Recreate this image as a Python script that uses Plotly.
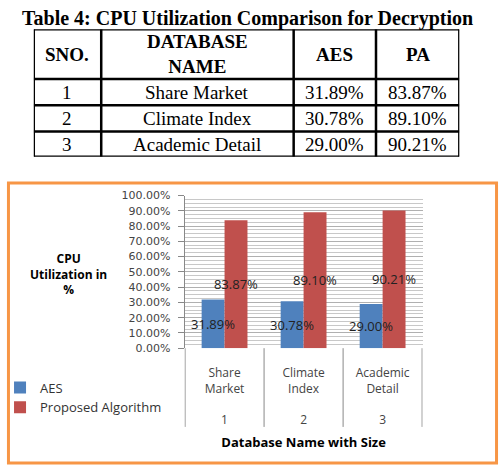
import plotly.graph_objects as go

# ---- data ----
sno = ["1", "2", "3"]
db_names = ["Share Market", "Climate Index", "Academic Detail"]
db_labels = ["Share<br>Market", "Climate<br>Index", "Academic<br>Detail"]
aes = [31.89, 30.78, 29.00]
pa = [83.87, 89.10, 90.21]
series_names = ["AES", "Proposed Algorithm"]
table_title = "Table 4: CPU Utilization Comparison for Decryption"
table_header = ["SNO.", "DATABASE<br>NAME", "AES", "PA"]
y_title = "CPU<br>Utilization in<br>%"
x_title = "Database Name with Size"

# ---- layout constants ----
W, H = 500, 466
def px_x(x): return x / W
def px_y(y): return 1 - y / H

serif = "Liberation Serif"
sans = "Open Sans"
col_widths = [68, 194, 83, 84]
row_heights = [51, 27, 27, 26]
tbl_left, tbl_top = 30, 24

fig = go.Figure()

# ---- bars ----
bar_colors = ["#4F81BD", "#C0504D"]
for i, (name, vals, col) in enumerate(zip(series_names, [aes, pa], bar_colors)):
    fig.add_trace(go.Bar(
        x=db_names, y=vals, name=name, offsetgroup=str(i),
        marker=dict(color=col, line=dict(width=0)),
        xaxis="x", yaxis="y", hoverinfo="skip",
    ))
# transparent copies that carry the value labels on top of all bars
for i, vals in enumerate([aes, pa]):
    fig.add_trace(go.Bar(
        x=db_names, y=vals, offsetgroup=str(i), showlegend=False,
        marker=dict(color="rgba(0,0,0,0)", line=dict(width=0)),
        text=["%.2f%%" % v for v in vals],
        textposition="inside", insidetextanchor="middle",
        constraintext="none", textangle=0,
        textfont=dict(family=sans, size=13, color="#222222"),
        xaxis="x", yaxis="y", hoverinfo="skip",
    ))

# category dividers below the plot (multi-level category look)
for k in range(len(db_names) + 1):
    fig.add_shape(type="line", xref="x", yref="paper", x0=k - 0.5, x1=k - 0.5,
                  y0=px_y(433), y1=px_y(352), line=dict(color="#888888", width=1))

tick_text = ["%s<br><br>%s" % (lab, s) for lab, s in zip(db_labels, sno)]

# ---- table drawn on its own axes ----
tbl_w = sum(col_widths)
tbl_h = sum(row_heights)
col_edges = [0]
for w in col_widths:
    col_edges.append(col_edges[-1] + w)
row_edges = [0]
for h in row_heights:
    row_edges.append(row_edges[-1] + h)

rows = [["<b>%s</b>" % h for h in table_header]]
for s, n, a, p in zip(sno, db_names, aes, pa):
    rows.append([s, n, "%.2f%%" % a, "%.2f%%" % p])

for r, row in enumerate(rows):
    yc = (row_edges[r] + row_edges[r + 1]) / 2
    for c, txt in enumerate(row):
        xc = (col_edges[c] + col_edges[c + 1]) / 2
        fig.add_annotation(text=txt, xref="x2", yref="y2", x=xc, y=yc,
                           showarrow=False, xanchor="center", yanchor="middle",
                           font=dict(family=serif, size=19, color="black"))
for xe in col_edges:
    fig.add_shape(type="line", xref="x2", yref="y2", x0=xe, x1=xe, y0=0, y1=tbl_h,
                  line=dict(color="black", width=2.5))
for ye in row_edges:
    fig.add_shape(type="line", xref="x2", yref="y2", x0=0, x1=tbl_w, y0=ye, y1=ye,
                  line=dict(color="black", width=2.5))

fig.update_layout(
    width=W, height=H,
    margin=dict(l=0, r=0, t=0, b=0),
    paper_bgcolor="white", plot_bgcolor="white",
    barmode="group", bargap=0.42, bargroupgap=0,
    showlegend=True,
    legend=dict(x=px_x(-4), y=px_y(377), xanchor="left", yanchor="top",
                font=dict(family=sans, size=13, color="#333333"),
                bgcolor="rgba(0,0,0,0)", itemwidth=30, tracegroupgap=0),
    xaxis=dict(domain=[px_x(182), px_x(422)], type="category",
               tickvals=db_names, ticktext=tick_text,
               showgrid=False, showline=False, ticks="",
               ticklabelstandoff=16,
               tickfont=dict(family=sans, size=12, color="#444444"),
               title=dict(text="<b>%s</b>" % x_title, font=dict(family=sans, size=13, color="black"), standoff=10)),
    yaxis=dict(domain=[px_y(352), px_y(195)], range=[0, 100], dtick=10,
               tickformat=".2f", ticksuffix="%",
               showline=True, linecolor="#888888", linewidth=1,
               ticks="outside", ticklen=6, tickcolor="#888888",
               ticklabelstandoff=5,
               gridcolor="#b0b0b0", gridwidth=1,
               minor=dict(dtick=2.5, showgrid=True, gridcolor="#c8c8c8", gridwidth=1),
               zeroline=False,
               tickfont=dict(family="DejaVu Sans", size=11, color="#444444")),
    xaxis2=dict(domain=[px_x(tbl_left), px_x(tbl_left + tbl_w)], range=[0, tbl_w],
                visible=False, anchor="y2", fixedrange=True),
    yaxis2=dict(domain=[px_y(tbl_top + tbl_h), px_y(tbl_top)], range=[tbl_h, 0],
                visible=False, anchor="x2", fixedrange=True),
)

fig.add_annotation(text="<b>%s</b>" % table_title, xref="paper", yref="paper",
                   x=px_x(245), y=px_y(13), xanchor="center", yanchor="middle",
                   showarrow=False, font=dict(family=serif, size=20, color="black"))
fig.add_annotation(text="<b>%s</b>" % y_title, xref="paper", yref="paper",
                   x=px_x(65), y=px_y(276), xanchor="center", yanchor="middle",
                   showarrow=False, font=dict(family=sans, size=12, color="black"))

fig.add_shape(type="rect", xref="paper", yref="paper",
              x0=px_x(4.5), x1=px_x(496.5), y0=px_y(182), y1=px_y(470),
              line=dict(color="#F79646", width=3), fillcolor="rgba(0,0,0,0)", layer="above")

fig.write_html("out.html")
